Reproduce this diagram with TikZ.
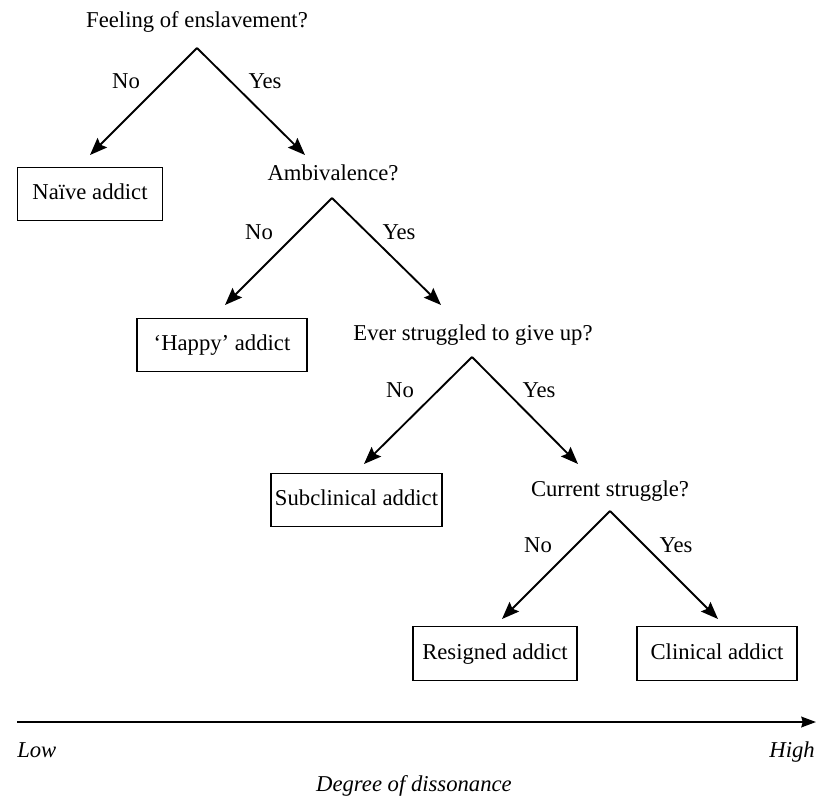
\documentclass[tikz,border=0pt]{standalone}
\usepackage{fontspec}
\setmainfont{Liberation Serif}
\usetikzlibrary{arrows.meta}
\begin{document}
\begin{tikzpicture}[x=0.75pt,y=-0.75pt,
  every node/.style={font=\fontsize{17}{20}\selectfont, inner sep=0pt},
  qtext/.style={anchor=center, text height=12pt, text depth=3.5pt},
  lbl/.style={anchor=center, text height=12pt, text depth=0pt},
  addict/.style={draw, line width=0.8pt, minimum height=40pt, minimum width=#1, inner sep=0pt, text height=12pt, text depth=3.5pt},
  branch/.style={line width=1.4pt, -{Stealth[length=13pt,width=10pt,inset=2pt]}},
  axis/.style={line width=1.4pt, -{Stealth[length=11pt,width=8pt,inset=1pt]}},
  axlbl/.style={font=\fontsize{17}{20}\selectfont\itshape, text height=12pt, text depth=3.5pt}
]
\useasboundingbox (0,0) rectangle (817,796);

% Level 1
\node[qtext] (q1) at (197,22) {Feeling of enslavement?};
\coordinate (a1) at (197,48);
\coordinate (t1l) at (90,155);
\coordinate (t1r) at (305,155);
\draw[branch] (a1) -- (t1l);
\draw[branch] (a1) -- (t1r);
\node[lbl] (n1) at (126,80) {No};
\node[lbl] (y1) at (265,80) {Yes};
\node[addict=108.75pt] (b1) at (90,194) {Naïve addict};

% Level 2
\node[qtext] (q2) at (333,175) {Ambivalence?};
\coordinate (a2) at (332,198);
\coordinate (t2l) at (225,305);
\coordinate (t2r) at (441,305);
\draw[branch] (a2) -- (t2l);
\draw[branch] (a2) -- (t2r);
\node[lbl] (n2) at (259,231) {No};
\node[lbl] (y2) at (399,231) {Yes};
\node[addict=127.5pt] (b2) at (222,345) {‘Happy’ addict};

% Level 3
\node[qtext] (q3) at (473,335) {Ever struggled to give up?};
\coordinate (a3) at (472,357);
\coordinate (t3l) at (364,464);
\coordinate (t3r) at (578,464);
\draw[branch] (a3) -- (t3l);
\draw[branch] (a3) -- (t3r);
\node[lbl] (n3) at (400,389) {No};
\node[lbl] (y3) at (539,389) {Yes};
\node[addict=128.25pt] (b3) at (356.5,500) {Subclinical addict};

% Level 4
\node[qtext] (q4) at (610,491) {Current struggle?};
\coordinate (a4) at (610,511);
\coordinate (t4l) at (502,619);
\coordinate (t4r) at (718,619);
\draw[branch] (a4) -- (t4l);
\draw[branch] (a4) -- (t4r);
\node[lbl] (n4) at (538,544) {No};
\node[lbl] (y4) at (676,544) {Yes};
\node[addict=123pt] (b4) at (495,653.5) {Resigned addict};
\node[addict=120pt] (b5) at (717,653.5) {Clinical addict};

% Axis
\coordinate (ax0) at (17,722);
\coordinate (ax1) at (816,722);
\draw[axis] (ax0) -- (ax1);
\node[axlbl, anchor=west] (low) at (17,752) {Low};
\node[axlbl, anchor=east] (high) at (815,752) {High};
\node[axlbl] (deg) at (414,786) {Degree of dissonance};
\end{tikzpicture}
\end{document}
